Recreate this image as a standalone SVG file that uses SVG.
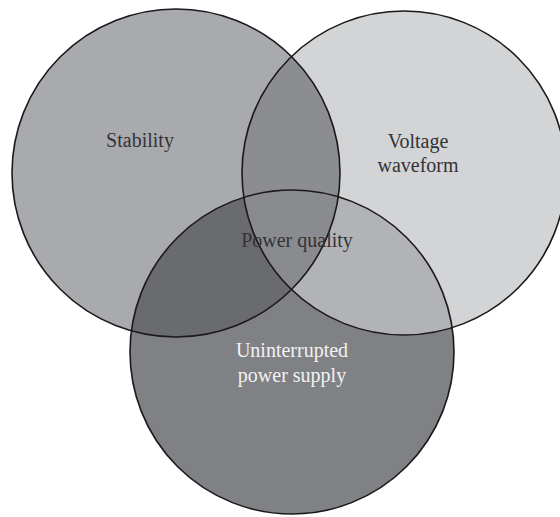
<svg xmlns="http://www.w3.org/2000/svg" width="560" height="517" viewBox="0 0 560 517">
<style>
.lbl{font-family:"Liberation Serif","Times New Roman",serif;font-size:20px;text-anchor:middle;fill:#333336}
.wht{fill:#f2f2f2}
.ring{fill:none;stroke:#1a1a1a;stroke-width:1.6}
</style>
<defs>
<clipPath id="cL"><circle cx="176" cy="173" r="164"/></clipPath>
<clipPath id="cR"><circle cx="404" cy="173" r="162"/></clipPath>
<clipPath id="cB"><circle cx="292" cy="352" r="162"/></clipPath>
</defs>
<rect width="560" height="517" fill="#ffffff"/>
<g id="regions">
<circle cx="176" cy="173" r="164" fill="#a9aaae"/>
<circle cx="404" cy="173" r="162" fill="#d3d4d6"/>
<circle cx="292" cy="352" r="162" fill="#808185"/>
<g clip-path="url(#cL)"><circle cx="404" cy="173" r="162" fill="#8c8d91"/></g>
<g clip-path="url(#cL)"><circle cx="292" cy="352" r="162" fill="#6a6b6f"/></g>
<g clip-path="url(#cR)"><circle cx="292" cy="352" r="162" fill="#b2b3b7"/></g>
<g clip-path="url(#cL)"><g clip-path="url(#cR)"><circle cx="292" cy="352" r="162" fill="#8a8b8f"/></g></g>
</g>
<g id="stability">
<circle class="ring" cx="176" cy="173" r="164"/>
<text class="lbl" x="140" y="147">Stability</text>
</g>
<g id="voltage-waveform">
<circle class="ring" cx="404" cy="173" r="162"/>
<text class="lbl" x="418" y="148">Voltage</text>
<text class="lbl" x="418" y="172">waveform</text>
</g>
<g id="uninterrupted-power-supply">
<circle class="ring" cx="292" cy="352" r="162"/>
<text class="lbl wht" x="292" y="357">Uninterrupted</text>
<text class="lbl wht" x="292" y="382">power supply</text>
</g>
<g id="power-quality">
<text class="lbl" x="297" y="247">Power quality</text>
</g>
<g id="connectors"></g>
</svg>
